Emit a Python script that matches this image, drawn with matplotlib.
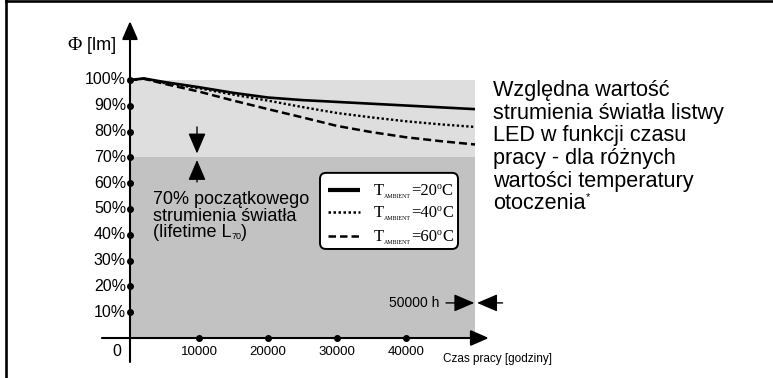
import matplotlib.pyplot as plt
from matplotlib.patches import Rectangle, FancyBboxPatch
from matplotlib.lines import Line2D

plt.rcParams['font.family'] = ['Liberation Sans', 'DejaVu Sans']

# relative luminous flux [%] vs working hours, three ambient temperatures
hours = [0, 2000, 5000, 10000, 15000, 20000, 25000, 30000, 35000, 40000, 45000, 50000]
flux_20 = [100, 100.6, 99.2, 97.2, 95.0, 93.2, 92.2, 91.5, 90.8, 90.1, 89.4, 88.7]
flux_40 = [100, 100.5, 98.8, 96.8, 94.3, 92.0, 89.5, 87.2, 85.5, 84.0, 82.8, 81.8]
flux_60 = [100, 100.5, 98.5, 95.5, 92.0, 88.7, 85.5, 82.2, 79.8, 77.8, 76.3, 75.0]

temps = [20, 40, 60]
y_ticks = [10, 20, 30, 40, 50, 60, 70, 80, 90, 100]
x_ticks = [10000, 20000, 30000, 40000]
lifetime_h = 50000
l70 = 70

info_lines = ['Względna wartość', 'strumienia światła listwy', 'LED w funkcji czasu',
              'pracy - dla różnych', 'wartości temperatury', 'otoczenia']
l70_lines = ['70% początkowego', 'strumienia światła', '(lifetime L']

fig = plt.figure(figsize=(7.73, 3.78), dpi=100)
ax = fig.add_axes([0, 0, 1, 1])
# 69 px per 10000 h, 2.58 px per 1 %
ax.set_xlim(-18841, 93188)
ax.set_ylim(-15.5, 131.0)
ax.axis('off')

# frame
fig.add_artist(Line2D([6 / 773, 6 / 773], [0, 1], color='k', lw=1.9))
fig.add_artist(Line2D([6 / 773, 1], [1 - 1.3 / 378, 1 - 1.3 / 378], color='k', lw=1.9))

# shaded zones
ax.add_patch(Rectangle((0, 0), lifetime_h, l70, fc='#c2c2c2', ec='none'))
ax.add_patch(Rectangle((0, l70), lifetime_h, 100 - l70, fc='#dedede', ec='none'))

ax.plot(hours, flux_20, color='k', lw=1.9, ls='-', solid_capstyle='butt')
ax.plot(hours, flux_40, color='k', lw=1.7, ls=(0, (1, 1)))
ax.plot(hours, flux_60, color='k', lw=1.8, ls=(0, (3.2, 1.6)))

# axes with arrows
head = '-|>,head_length=0.55,head_width=0.24'
ax.annotate('', xy=(0, 122.8), xytext=(0, -9.3),
            arrowprops=dict(arrowstyle=head, mutation_scale=20, lw=1.5, color='k', shrinkA=0, shrinkB=0))
ax.annotate('', xy=(52000, 0), xytext=(-4060, 0),
            arrowprops=dict(arrowstyle=head, mutation_scale=20, lw=1.5, color='k', shrinkA=0, shrinkB=0))

ax.plot([0] * len(y_ticks), y_ticks, 'ko', ms=4, clip_on=False)
ax.plot(x_ticks, [0] * len(x_ticks), 'ko', ms=4, clip_on=False)

for v in y_ticks:
    ax.text(-580, v, '%d%%' % v, ha='right', va='center', fontsize=11.5)
ax.text(-1900, -5.4, '0', ha='center', va='center', fontsize=11.5)
for v in x_ticks:
    ax.text(v, -5.4, '%d' % v, ha='center', va='center', fontsize=9.5)
ax.text(45300, -8.1, 'Czas pracy [godziny]', ha='left', va='center', fontsize=8.5)
phi = ax.text(-9100, 113.2, 'Φ', ha='left', va='center', fontsize=14, family='Liberation Serif')
ax.annotate(' [lm]', xy=(1, 0.5), xycoords=phi, ha='left', va='center', fontsize=13)

# 70 % marker arrows
small = '-|>,head_length=0.7,head_width=0.3'
ax.annotate('', xy=(9710, 71.5), xytext=(9710, 81.8),
            arrowprops=dict(arrowstyle=small, mutation_scale=18, lw=1, color='k', shrinkA=0, shrinkB=0))
ax.annotate('', xy=(9710, 69.0), xytext=(9710, 60.5),
            arrowprops=dict(arrowstyle=small, mutation_scale=18, lw=1, color='k', shrinkA=0, shrinkB=0))

# 50000 h marker arrows
ax.annotate('', xy=(49900, 13.6), xytext=(45800, 13.6),
            arrowprops=dict(arrowstyle=small, mutation_scale=18, lw=1, color='k', shrinkA=0, shrinkB=0))
ax.annotate('', xy=(50300, 13.6), xytext=(54000, 13.6),
            arrowprops=dict(arrowstyle=small, mutation_scale=18, lw=1, color='k', shrinkA=0, shrinkB=0))
ax.text(44800, 13.6, '%d h' % lifetime_h, ha='right', va='center', fontsize=10)


def after(prev, s, size, family='Liberation Sans', xycoords=None, xy=(1, 0), va='bottom', dy=0):
    return ax.annotate(s, xy=xy, xycoords=xycoords or prev, xytext=(0, dy),
                       textcoords='offset points', fontsize=size, family=family,
                       ha='left', va=va)


# L70 description
for i, s in enumerate(l70_lines):
    t = ax.text(3300, 53.5 - i * 6.4, s, ha='left', va='center', fontsize=13)
sub = after(t, '70', 6.5)
after(sub, ')', 13)

# right side description
for i, s in enumerate(info_lines):
    t = ax.text(52600, 96.0 - i * 8.8, s, ha='left', va='center', fontsize=15.6)
after(t, '*', 8, xy=(1, 1), va='top', dy=1)

# legend
ax.add_patch(FancyBboxPatch((27536, 34.5), 20000, 29.5,
                            boxstyle='round,pad=0,rounding_size=870', mutation_aspect=0.00268,
                            fc='white', ec='k', lw=1.4))
leg_y = [57.4, 48.8, 39.5]
leg_styles = [dict(ls='-', lw=3), dict(ls=(0, (1, 1)), lw=1.8), dict(ls=(0, (3, 1.6)), lw=1.8)]
for y, tc, st in zip(leg_y, temps, leg_styles):
    ax.plot([28700, 33300], [y, y], color='k', solid_capstyle='butt', **st)
    t = ax.text(35360, y - 2.0, 'T', ha='left', va='baseline', fontsize=12, family='Liberation Serif')
    s1 = after(t, 'AMBIENT', 4.3, family='Liberation Serif')
    eq = after(s1, '=%d' % tc, 12, family='Liberation Serif')
    o = after(eq, 'o', 7, family='Liberation Serif', xy=(1, 1), va='top', dy=1)
    after(o, 'C', 12, family='Liberation Serif', xycoords=(o, eq), xy=(1, 0))

fig.savefig('out.png', dpi=100)
